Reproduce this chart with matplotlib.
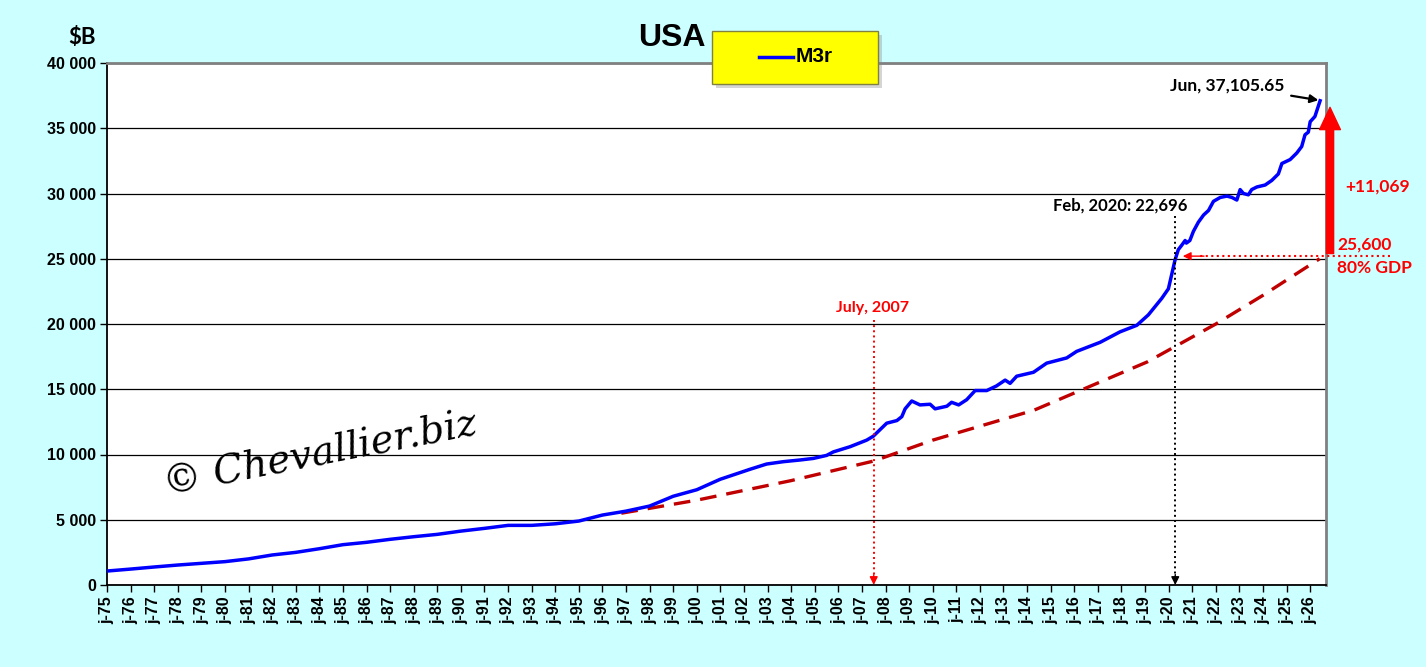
import matplotlib
matplotlib.use("Agg")
import matplotlib.pyplot as plt
import matplotlib.patheffects as pe
from matplotlib.patches import Rectangle
from matplotlib.lines import Line2D
from matplotlib.ticker import FuncFormatter

# M3r in $B (decimal year, value)
m3_years = [1975.0, 1976, 1977, 1978, 1979, 1980, 1981, 1982, 1983, 1984,
            1985, 1986, 1987, 1988, 1989, 1990, 1991, 1992, 1993, 1994,
            1995, 1996, 1997, 1998, 1999, 2000, 2000.99, 2002.26, 2002.96,
            2003.67, 2004.38, 2004.94, 2005.5, 2005.79, 2006.5, 2007.2,
            2007.48, 2008.05, 2008.48, 2008.69, 2008.83, 2009.11, 2009.46,
            2009.89, 2010.1, 2010.6, 2010.8, 2011.1, 2011.44, 2011.8,
            2012.29, 2012.7, 2013.07, 2013.28, 2013.56, 2014.27, 2014.83,
            2015.68, 2016.1, 2017.1, 2017.94, 2018.65, 2019.14, 2019.71,
            2019.99, 2020.27, 2020.41, 2020.56, 2020.7, 2020.75, 2020.9,
            2021.05, 2021.26, 2021.48, 2021.69, 2021.9, 2022.19, 2022.47,
            2022.68, 2022.89, 2023.03, 2023.17, 2023.38, 2023.52, 2023.74,
            2024.09, 2024.37, 2024.65, 2024.8, 2025.15, 2025.43, 2025.64,
            2025.78, 2025.92, 2026.0, 2026.2, 2026.42]
m3_values = [1070, 1220, 1380, 1530, 1660, 1790, 2000, 2300, 2500, 2780,
             3090, 3270, 3500, 3700, 3880, 4130, 4340, 4570, 4570, 4690,
             4900, 5360, 5660, 6050, 6800, 7300, 8100, 8870, 9270,
             9450, 9580, 9700, 9930, 10200, 10600, 11100,
             11400, 12400, 12600, 12900, 13500, 14100, 13800,
             13850, 13500, 13700, 14000, 13800, 14200, 14900,
             14900, 15250, 15700, 15450, 16000, 16300, 17000,
             17400, 17900, 18600, 19400, 19900, 20700, 21970,
             22700, 24900, 25700, 26050, 26400, 26200, 26400,
             27100, 27800, 28350, 28700, 29400, 29700, 29800,
             29700, 29500, 30300, 30000, 29900, 30300, 30500,
             30650, 31000, 31500, 32300, 32600, 33100, 33600,
             34500, 34700, 35500, 35900, 37106]

# 80% of GDP trend (red dashed)
gdp80_years = [1996.8, 2000, 2004, 2007.5, 2010, 2014.3, 2019.1, 2022, 2024, 2026.4]
gdp80_values = [5500, 6500, 8000, 9500, 11100, 13400, 17100, 20000, 22200, 25000]

tick_years = list(range(1975, 2027))
tick_labels = ["j-%02d" % (y % 100) for y in tick_years]
y_ticks = list(range(0, 40001, 5000))

W, H = 1426, 667
BG = "#CCFFFF"
BOLD = dict(family="Liberation Sans", weight="bold")
CAL = dict(family="Lato", weight="bold")


def px(x, y):
    return x / W, 1 - y / H


fig = plt.figure(figsize=(W / 100, H / 100), dpi=100, facecolor=BG)
ax = fig.add_axes([107 / W, 1 - 585 / H, (1326 - 107) / W, (585 - 63) / H])
ax.set_facecolor("white")

ax.plot(gdp80_years, gdp80_values, color="#C00000", lw=2.4, dashes=(5, 3), zorder=3)
ax.plot(m3_years, m3_values, color="#0000FF", lw=2.5, zorder=4)

ax.set_xlim(1975.0, 2026.67)
ax.set_ylim(0, 40000)
ax.set_xticks(tick_years)
ax.set_xticklabels(tick_labels, rotation=90, fontsize=11.5, **BOLD)
ax.set_yticks(y_ticks)
ax.yaxis.set_major_formatter(FuncFormatter(lambda v, p: ("%d" % v) if v == 0 else "{:,}".format(int(v)).replace(",", " ")))
for lab in ax.get_yticklabels():
    lab.set_fontsize(11.5)
    lab.set_fontfamily("Liberation Sans")
    lab.set_fontweight("bold")
ax.tick_params(axis="both", direction="out", length=5, width=1, color="black", pad=3)
ax.grid(axis="y", color="black", lw=0.9)
ax.set_axisbelow(True)
for side in ("left", "bottom"):
    ax.spines[side].set_color("black")
    ax.spines[side].set_linewidth(1.3)
for side in ("top", "right"):
    ax.spines[side].set_color("#808080")
    ax.spines[side].set_linewidth(2)

# July 2007 marker
ax.plot([2007.5, 2007.5], [20300, 700], color="red", ls=":", lw=1.4, zorder=5)
ax.annotate("", xy=(2007.5, 0), xytext=(2007.5, 800),
            arrowprops=dict(arrowstyle="-|>", color="red", lw=1, mutation_scale=12,
                            shrinkA=0, shrinkB=0), zorder=5)
ax.text(2007.45, 20700, "July, 2007", color="red", fontsize=11.5, ha="center", va="bottom", **CAL)

# Feb 2020 marker
ax.plot([2020.28, 2020.28], [28300, 700], color="black", ls=":", lw=1.4, zorder=5)
ax.annotate("", xy=(2020.28, 0), xytext=(2020.28, 800),
            arrowprops=dict(arrowstyle="-|>", color="black", lw=1, mutation_scale=12,
                            shrinkA=0, shrinkB=0), zorder=5)
ax.text(2020.8, 28500, "Feb, 2020: 22,696", color="black", fontsize=12, ha="right", va="bottom", **CAL)

# last value
ax.annotate("Jun, 37,105.65", xy=(2026.35, 37150), xytext=(2024.9, 38300),
            ha="right", va="center", fontsize=12.5, color="black", **CAL,
            arrowprops=dict(arrowstyle="-|>", color="black", lw=1.6, mutation_scale=12,
                            shrinkA=3, shrinkB=0))

# big red arrow and 80% GDP level
ax.annotate("", xy=(2026.84, 36600), xytext=(2026.84, 25400), annotation_clip=False,
            arrowprops=dict(arrowstyle="simple,head_length=0.8,head_width=0.75,tail_width=0.26",
                            color="red", mutation_scale=20, shrinkA=0, shrinkB=0))
ax.plot([2029.4, 2021.2], [25200, 25200], color="red", ls=":", lw=1.5, clip_on=False, zorder=5)
ax.annotate("", xy=(2020.6, 25200), xytext=(2021.5, 25200), annotation_clip=False,
            arrowprops=dict(arrowstyle="-|>", color="red", lw=1, mutation_scale=12,
                            shrinkA=0, shrinkB=0))

fig.text(*px(1378, 187), "+11,069", color="red", fontsize=12.5, ha="center", va="center", **CAL)
fig.text(*px(1337, 245), "25,600", color="red", fontsize=12.5, ha="left", va="center", **CAL)
fig.text(*px(1337, 268), "80% GDP", color="red", fontsize=12.5, ha="left", va="center", **CAL)

# title, unit, legend
fig.text(*px(672, 38), "USA", fontsize=23, ha="center", va="center", **BOLD)
fig.text(*px(82, 38), "$B", fontsize=16, ha="center", va="center", **CAL)

x0, y0 = px(712, 84)
leg = Rectangle((x0, y0), 166 / W, 53 / H, transform=fig.transFigure,
                facecolor="#FFFF00", edgecolor="#808040", lw=1, zorder=10,
                path_effects=[pe.SimplePatchShadow(offset=(3, -3), shadow_rgbFace="#888888", alpha=0.35),
                              pe.Normal()])
fig.add_artist(leg)
lx0, ly = px(759, 57)
lx1, _ = px(793, 57)
fig.add_artist(Line2D([lx0, lx1], [ly, ly], transform=fig.transFigure, color="#0000FF", lw=2.5, zorder=11))
fig.text(*px(796, 57), "M3r", fontsize=15, ha="left", va="center", zorder=11, **BOLD)

# watermark
ax.text(0.175, 0.25, "\u00a9 Chevallier.biz", transform=ax.transAxes, fontsize=28,
        family="DejaVu Serif", style="italic", rotation=11, ha="center", va="center",
        color="black", zorder=6)

fig.savefig("out.png", dpi=100, facecolor=BG)
